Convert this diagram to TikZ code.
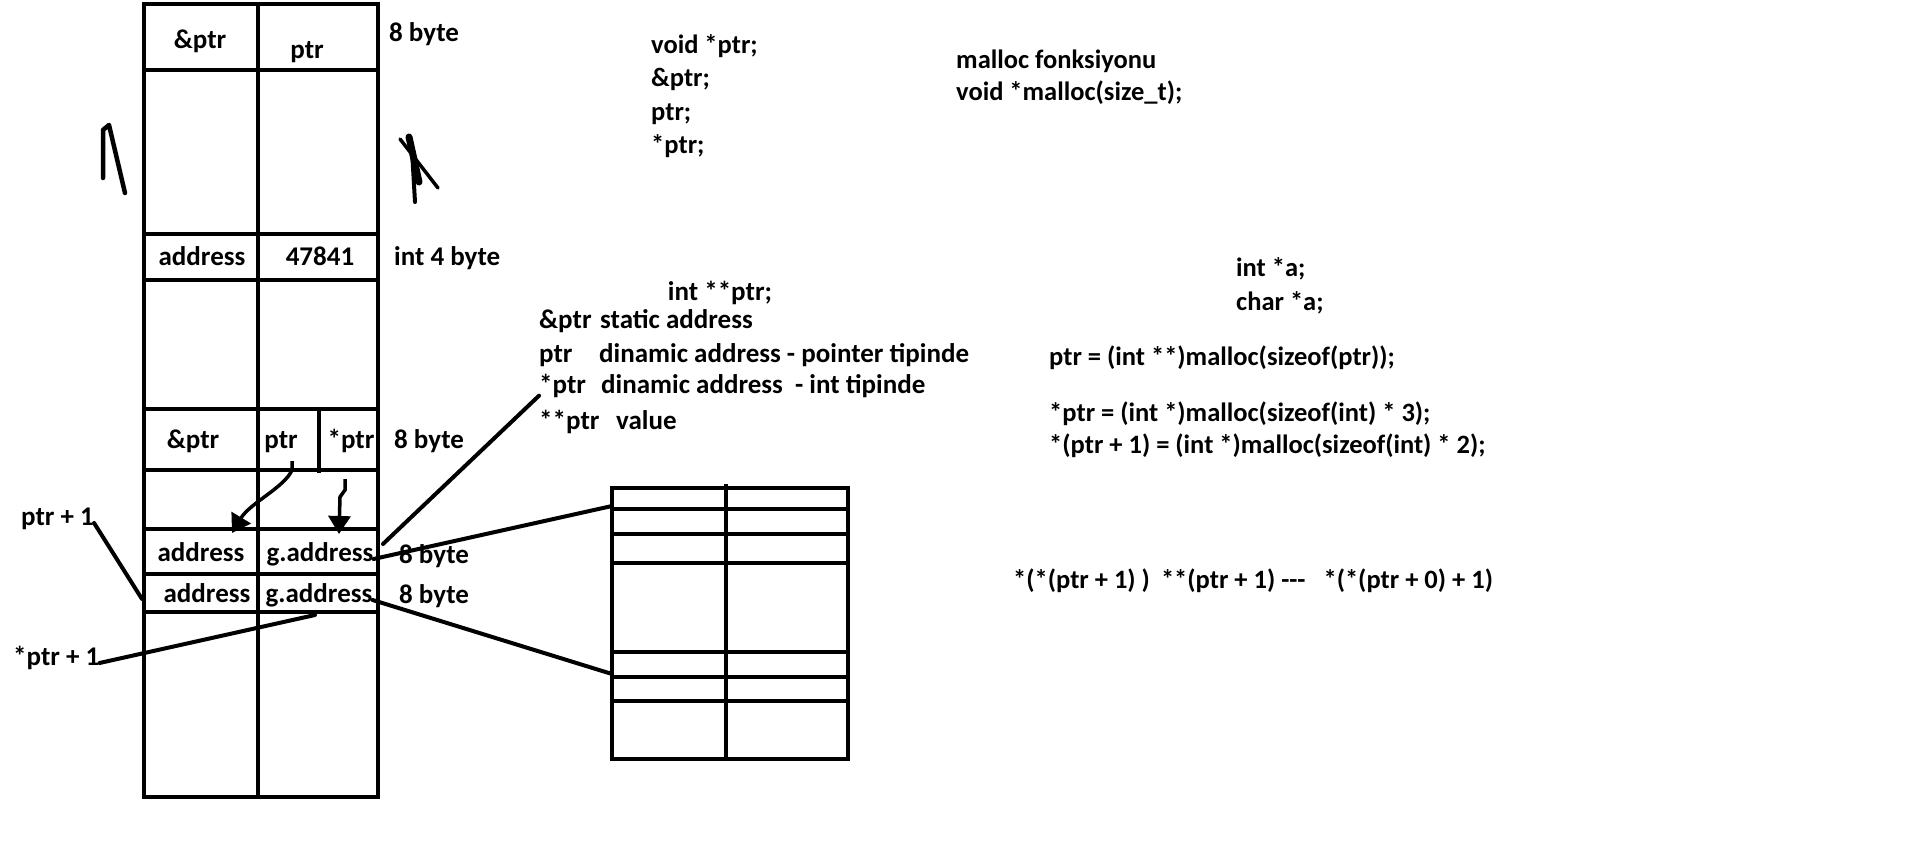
\documentclass[tikz,border=0pt]{standalone}
\usepackage{fontspec}
\setmainfont{Carlito}
\usetikzlibrary{arrows.meta, positioning}

\begin{document}
\begin{tikzpicture}[
    x=1pt, y=-1pt,
    every node/.style={font=\bfseries\fontsize{27}{32}\selectfont, inner sep=0pt,
        text height=0.7em, text depth=0.2em, yshift=-6pt},
    cell/.style={anchor=center},
    side/.style={anchor=west},
    note/.style={anchor=west},
    code/.style={anchor=west, font=\bfseries\fontsize{26.5}{31}\selectfont},
    grid/.style={line width=4pt},
    lead/.style={line width=4pt, line cap=round},
    scribble/.style={line width=4pt, line cap=round, line join=round},
    ptrarrow/.style={line width=3.5pt, -{Triangle[length=18pt,width=22pt]}}
]
\useasboundingbox (0,0) rectangle (1914,845);

% stack memory
\draw[grid] (144,4) rectangle (378,797);
\draw[grid] (258,4) -- (258,797);
\foreach \y in {70,234,280,409,470,529,574,612}
    \draw[grid] (144,\y) -- (378,\y);
\draw[grid] (319,409) -- (319,473);

\node[cell] (aptr) at (200,40) {\&ptr};
\node[cell] (ptr) at (307,50) {ptr};
\node[side] (sizeA) at (389,33) {8 byte};
\node[cell] (addr) at (202,257) {address};
\node[cell] (val) at (320,257) {47841};
\node[side] (sizeB) at (394,257) {int 4 byte};
\node[cell] (aptrB) at (193,440) {\&ptr};
\node[cell] (ptrB) at (281,440) {ptr};
\node[cell] (sptrB) at (351,440) {*ptr};
\node[side] (sizeC) at (394,440) {8 byte};
\node[cell] (addrA) at (201,553) {address};
\node[cell] (gaddrA) at (320,553) {g.address};
\node[side] (sizeD) at (399,555) {8 byte};
\node[cell] (addrB) at (207,594) {address};
\node[cell] (gaddrB) at (319,594) {g.address};
\node[side] (sizeE) at (399,595) {8 byte};

\node[side] (ptrone) at (21,517) {ptr + 1};
\node[side] (sptrone) at (13,657) {*ptr + 1};

% scribbles
\draw[scribble, line width=4.5pt] (103,178) -- (103,130) -- (109,125) -- (125,193);
\draw[scribble, line width=3.5pt] (400,139) -- (438,188);
\draw[scribble, line width=7pt] (409,137) -- (419,182);
\draw[scribble] (412,150) -- (415,202);

% heap memory
\draw[grid] (612,488) rectangle (848,759);
\draw[grid] (726,484) -- (726,759);
\foreach \y in {509,534,563,652,677,701}
    \draw[grid] (612,\y) -- (850,\y);

% code notes
\node[code] (vdecl) at (651,45) {void *ptr;};
\node[code] (vaddr) at (651,78) {\&ptr;};
\node[code] (vptr) at (651,112) {ptr;};
\node[code] (vval) at (651,145) {*ptr;};
\node[code] (mtitle) at (956,60) {malloc fonksiyonu};
\node[code] (mproto) at (956,92) {void *malloc(size\_t);};

\node[cell] (decl) at (720,292) {int **ptr;};
\node[note] (kaddr) at (539,320) {\&ptr};
\node[note] (kptr) at (539,354) {ptr};
\node[note] (dsptr) at (539,385) {*ptr};
\node[note] (kval) at (539,421) {**ptr};
\node[note] (taddr) at (600,320) {static address};
\node[note] (tptr) at (599,354) {dinamic address - pointer tipinde};
\node[note] (tsptr) at (601,385) {dinamic address \ - int tipinde};
\node[note] (tval) at (616,421) {value};

\node[code] (inta) at (1236,268) {int *a;};
\node[code] (chara) at (1236,302) {char *a;};
\node[code] (mallocA) at (1049,357) {ptr = (int **)malloc(sizeof(ptr));};
\node[code] (mallocB) at (1049,413) {*ptr = (int *)malloc(sizeof(int) * 3);};
\node[code] (mallocC) at (1049,445) {*(ptr + 1) = (int *)malloc(sizeof(int) * 2);};
\node[code] (deref) at (1013,580)
    {*(*(ptr + 1) )\hspace{11pt}**(ptr + 1) -{}-{}-\hspace{18pt}*(*(ptr + 0) + 1)};

% connectors
\coordinate (rowB) at (142,593);
\coordinate (rowBlow) at (315,609);
\coordinate (rowAlink) at (383,538);
\coordinate (heapA) at (612,500);
\coordinate (heapB) at (612,668);
\coordinate (ptrtail) at (292,455);
\coordinate (ptrhead) at (232,527);
\coordinate (sptrtail) at (345,473);
\coordinate (sptrhead) at (339,528);

\draw[lead] (ptrone.east) -- (rowB);
\draw[lead] (sptrone.east) -- (rowBlow);
\draw[lead] (rowAlink) -- (dsptr.south west);
\draw[lead] (gaddrA.east) -- (heapA);
\draw[lead] (gaddrB.east) -- (heapB);

\draw[ptrarrow] (ptrtail) -- (292,470) .. controls (285,487) and (250,503) .. (ptrhead);
\draw[ptrarrow] (sptrtail) -- (345,490) -- (340,497) -- (sptrhead);

\end{tikzpicture}
\end{document}
